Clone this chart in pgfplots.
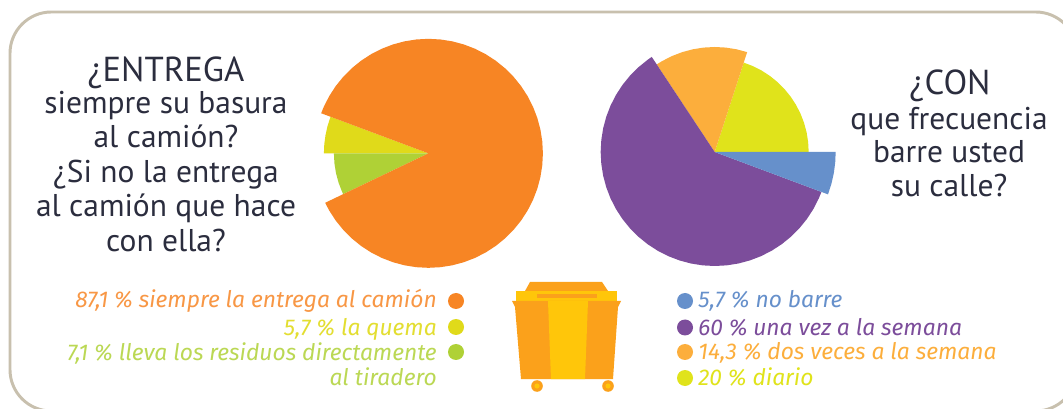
\documentclass[border=0pt]{standalone}
\usepackage{pgfplots}
\pgfplotsset{compat=1.18}
\usepackage{fontspec}
\setmainfont{PT Sans}
\newfontfamily\keyfont{Fira Sans}
\definecolor{ink}{HTML}{2B2D3E}
\definecolor{frame}{HTML}{C8C0AE}
\definecolor{cOrange}{HTML}{F78524}
\definecolor{cYellowL}{HTML}{E0DA1A}
\definecolor{cGreen}{HTML}{AFD136}
\definecolor{cBlue}{HTML}{6690CB}
\definecolor{cPurple}{HTML}{7C4D9B}
\definecolor{cAmber}{HTML}{FCAE3C}
\definecolor{cYellowR}{HTML}{E0E31B}
\definecolor{binDark}{HTML}{FBA11B}
\definecolor{binLight}{HTML}{FFC60A}
\pgfplotsset{
  pie/.style={hide axis, scale only axis, width=187.5pt, height=187.5pt,
    xmin=-125, xmax=125, ymin=-125, ymax=125, anchor=center, clip=false,
    data cs=polar},
  slice/.style={fill=#1, draw=none, mark=none, forget plot},
}
\begin{document}
\begin{tikzpicture}[x=.75pt,y=-.75pt]
\useasboundingbox (0,0) rectangle (1063,409);
\clip (0,0) rectangle (1063,409);
\fill[white] (0,0) rectangle (1063,409);
% panel outline
\draw[frame, line width=2.2pt, rounded corners=31pt] (10,12) rectangle (1077,411);

% first pie: 87.1 / 5.7 / 7.1 per cent, angle and radius of each slice
\begin{axis}[pie, at={(321.3pt,-115pt)}]
\addplot[slice=cYellowL] coordinates {(0,0) (159.5,104.5) (165,104.5) (170,104.5) (175,104.5) (180,104.5)} -- cycle;
\addplot[slice=cGreen] coordinates {(0,0) (180,94.5) (186,94.5) (192,94.5) (198,94.5) (204,94.5) (205.6,94.5)} -- cycle;
\addplot[slice=cOrange] coordinates {(0,0) (205.6,114.5) (210,114.5) (216,114.5) (222,114.5) (228,114.5) (234,114.5) (240,114.5)
  (246,114.5) (252,114.5) (258,114.5) (264,114.5) (270,114.5) (276,114.5) (282,114.5) (288,114.5) (294,114.5) (300,114.5)
  (306,114.5) (312,114.5) (318,114.5) (324,114.5) (330,114.5) (336,114.5) (342,114.5) (348,114.5) (354,114.5) (360,114.5)
  (366,114.5) (372,114.5) (378,114.5) (384,114.5) (390,114.5) (396,114.5) (402,114.5) (408,114.5) (414,114.5) (420,114.5)
  (426,114.5) (432,114.5) (438,114.5) (444,114.5) (450,114.5) (456,114.5) (462,114.5) (468,114.5) (474,114.5) (480,114.5)
  (486,114.5) (492,114.5) (498,114.5) (504,114.5) (510,114.5) (516,114.5) (519.5,114.5)} -- cycle;
\end{axis}

% second pie: 5.7 / 60 / 14.3 / 20 per cent
\begin{axis}[pie, at={(536pt,-114pt)}]
\addplot[slice=cYellowR] coordinates {(0,0) (0,94) (6,94) (12,94) (18,94) (24,94) (30,94) (36,94) (42,94) (48,94) (54,94) (60,94) (66,94) (72,94)} -- cycle;
\addplot[slice=cAmber] coordinates {(0,0) (72,105) (78,105) (84,105) (90,105) (96,105) (102,105) (108,105) (114,105) (120,105) (123.5,105)} -- cycle;
\addplot[slice=cPurple] coordinates {(0,0) (123.5,114) (126,114) (132,114) (138,114) (144,114) (150,114) (156,114) (162,114)
  (168,114) (174,114) (180,114) (186,114) (192,114) (198,114) (204,114) (210,114) (216,114) (222,114)
  (228,114) (234,114) (240,114) (246,114) (252,114) (258,114) (264,114) (270,114) (276,114) (282,114)
  (288,114) (294,114) (300,114) (306,114) (312,114) (318,114) (324,114) (330,114) (336,114) (339.5,114)} -- cycle;
\addplot[slice=cBlue] coordinates {(0,0) (339.5,121) (345,121) (350,121) (355,121) (360,121)} -- cycle;
\end{axis}

% headings
\begin{scope}[every node/.style={anchor=base, inner sep=0pt, text=ink}]
\node[font=\fontsize{26pt}{26pt}\selectfont] at (166,82) {¿ENTREGA};
\node[font=\fontsize{23.6pt}{24pt}\selectfont] at (166,114) {siempre su basura};
\node[font=\fontsize{23.6pt}{24pt}\selectfont] at (166,148) {al camión?};
\node[font=\fontsize{23.6pt}{24pt}\selectfont] at (166,183) {¿Si no la entrega};
\node[font=\fontsize{23.6pt}{24pt}\selectfont] at (166,217) {al camión que hace};
\node[font=\fontsize{23.6pt}{24pt}\selectfont] at (166,252) {con ella?};
\node[font=\fontsize{26pt}{26pt}\selectfont] at (950,95) {¿CON};
\node[font=\fontsize{23.6pt}{24pt}\selectfont] at (949,130) {que frecuencia};
\node[font=\fontsize{23.6pt}{24pt}\selectfont] at (949,163) {barre usted};
\node[font=\fontsize{23.6pt}{24pt}\selectfont] at (949,197) {su calle?};
\end{scope}

% key for the first pie
\begin{scope}[every node/.style={anchor=base east, inner sep=0pt, font=\keyfont\fontsize{17.1pt}{18pt}\selectfont\itshape}]
\node[text=cOrange!85!white] at (437,308) {87,1 \% siempre la entrega al camión};
\node[text=cYellowL!90!white] at (437,336) {5,7 \% la quema};
\node[text=cGreen!85!white] at (437,360) {7,1 \% lleva los residuos directamente};
\node[text=cGreen!85!white] at (437,385) {al tiradero};
\end{scope}
\fill[cOrange] (456,301) circle (8);
\fill[cYellowL] (456,327) circle (8);
\fill[cGreen] (456,352) circle (8);

% key for the second pie
\begin{scope}[every node/.style={anchor=base west, inner sep=0pt, font=\keyfont\fontsize{17.1pt}{18pt}\selectfont\itshape}]
\node[text=cBlue] at (698,308) {5,7 \% no barre};
\node[text=cPurple] at (698,336) {60 \% una vez a la semana};
\node[text=cAmber] at (698,359) {14,3 \% dos veces a la semana};
\node[text=cYellowR] at (698,385) {20 \% diario};
\end{scope}
\fill[cBlue] (685,301) circle (8);
\fill[cPurple] (685,327.5) circle (8);
\fill[cAmber] (685,352) circle (8);
\fill[cYellowR] (685,378) circle (8);

% waste container
\fill[binDark] (525,291) -- (530,282) -- (602,282) -- (608,291) -- cycle;
\fill[binLight] (516,291) rectangle (617,301);
\fill[binDark] (537,294) rectangle (597,298);
\fill[binDark] (512,301) -- (621,301) -- (618,307) -- (613,379) -- (521,379) -- (515,307) -- cycle;
\fill[binLight] (548,301) -- (588,301) -- (585,379) -- (551,379) -- cycle;
\foreach \wx in {537,608} {
  \fill[binDark] (\wx,386) circle (5.8);
  \fill[binLight] (\wx,386) circle (2.6);
}
\end{tikzpicture}
\end{document}
